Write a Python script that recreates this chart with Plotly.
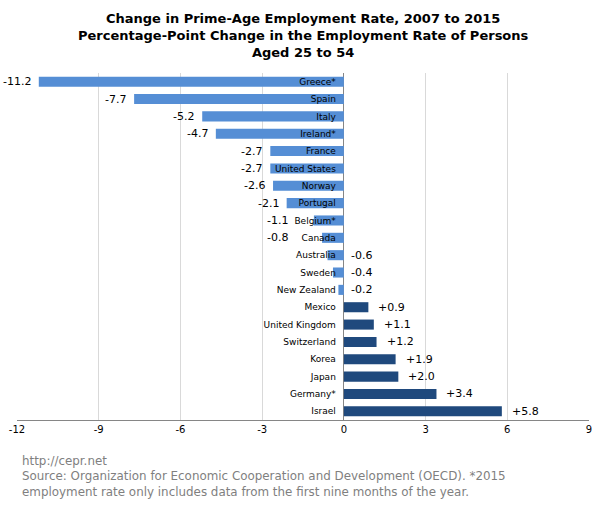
import plotly.graph_objects as go

countries = ["Greece*", "Spain", "Italy", "Ireland*", "France", "United States", "Norway",
             "Portugal", "Belgium*", "Canada", "Australia", "Sweden", "New Zealand", "Mexico",
             "United Kingdom", "Switzerland", "Korea", "Japan", "Germany*", "Israel"]
changes = [-11.2, -7.7, -5.2, -4.7, -2.7, -2.7, -2.6, -2.1, -1.1, -0.8, -0.6, -0.4, -0.2,
           0.9, 1.1, 1.2, 1.9, 2.0, 3.4, 5.8]
x_ticks = [-12, -9, -6, -3, 0, 3, 6, 9]

NEG = "#558ED5"
POS = "#1F497D"
FONT = "DejaVu Sans"

colors = [NEG if v < 0 else POS for v in changes]
labels = [f"{v:+.1f}" if v > 0 else f"{v:.1f}" for v in changes]

fig = go.Figure(go.Bar(
    x=changes, y=countries, orientation="h",
    marker=dict(color=colors, line=dict(width=0)),
    hoverinfo="x+y",
))

fig.update_layout(
    width=600, height=509,
    margin=dict(l=17, r=11, t=73, b=89, autoexpand=False),
    paper_bgcolor="white", plot_bgcolor="white",
    bargap=0.42, showlegend=False,
    xaxis=dict(
        range=[-12, 9], tickvals=x_ticks, ticktext=[str(t) for t in x_ticks],
        showgrid=True, gridcolor="#D9D9D9", gridwidth=1,
        zeroline=True, zerolinecolor="#868686", zerolinewidth=1,
        showline=True, linecolor="#868686", linewidth=1,
        ticks="", tickfont=dict(family=FONT, size=10, color="#000000"),
        automargin=False, fixedrange=True,
    ),
    yaxis=dict(
        autorange="reversed", anchor="free", position=12 / 21,
        showgrid=False, zeroline=False, showline=False, ticks="",
        ticklabelstandoff=8, automargin=False,
        tickfont=dict(family=FONT, size=9, color="#000000"),
    ),
)

# value labels
for c, v, lab in zip(countries, changes, labels):
    if v >= 0:
        ax, anchor, shift = v, "left", 8
    elif v > -0.7:
        ax, anchor, shift = 0, "left", 5
    else:
        ax, anchor, shift = min(v, -1.75), "right", -6
    fig.add_annotation(
        x=ax, y=c, xref="x", yref="y", text=lab, showarrow=False,
        xanchor=anchor, xshift=shift, yanchor="middle",
        font=dict(family=FONT, size=11, color="#000000"),
    )

# title
fig.add_annotation(
    text="<b>Change in Prime-Age Employment Rate, 2007 to 2015<br>"
         "Percentage-Point Change in the Employment Rate of Persons<br>Aged 25 to 54</b>",
    xref="paper", yref="paper", x=0.5, y=1 + (73 - 9) / 347, xanchor="center", yanchor="top",
    showarrow=False, align="center",
    font=dict(family=FONT, size=13, color="#000000"),
)

# footer
fig.add_annotation(
    text="http://cepr.net<br>Source: Organization for Economic Cooperation and Development (OECD). *2015<br>"
         "employment rate only includes data from the first nine months of the year.",
    xref="paper", yref="paper", x=0.005, y=-(452 - 420) / 347, xanchor="left", yanchor="top",
    align="left", showarrow=False,
    font=dict(family=FONT, size=11.9, color="#7F7F7F"),
)

fig.write_html("out.html", config={"displayModeBar": False},
               post_script="document.body.style.margin='0';document.body.style.overflow='hidden';")
